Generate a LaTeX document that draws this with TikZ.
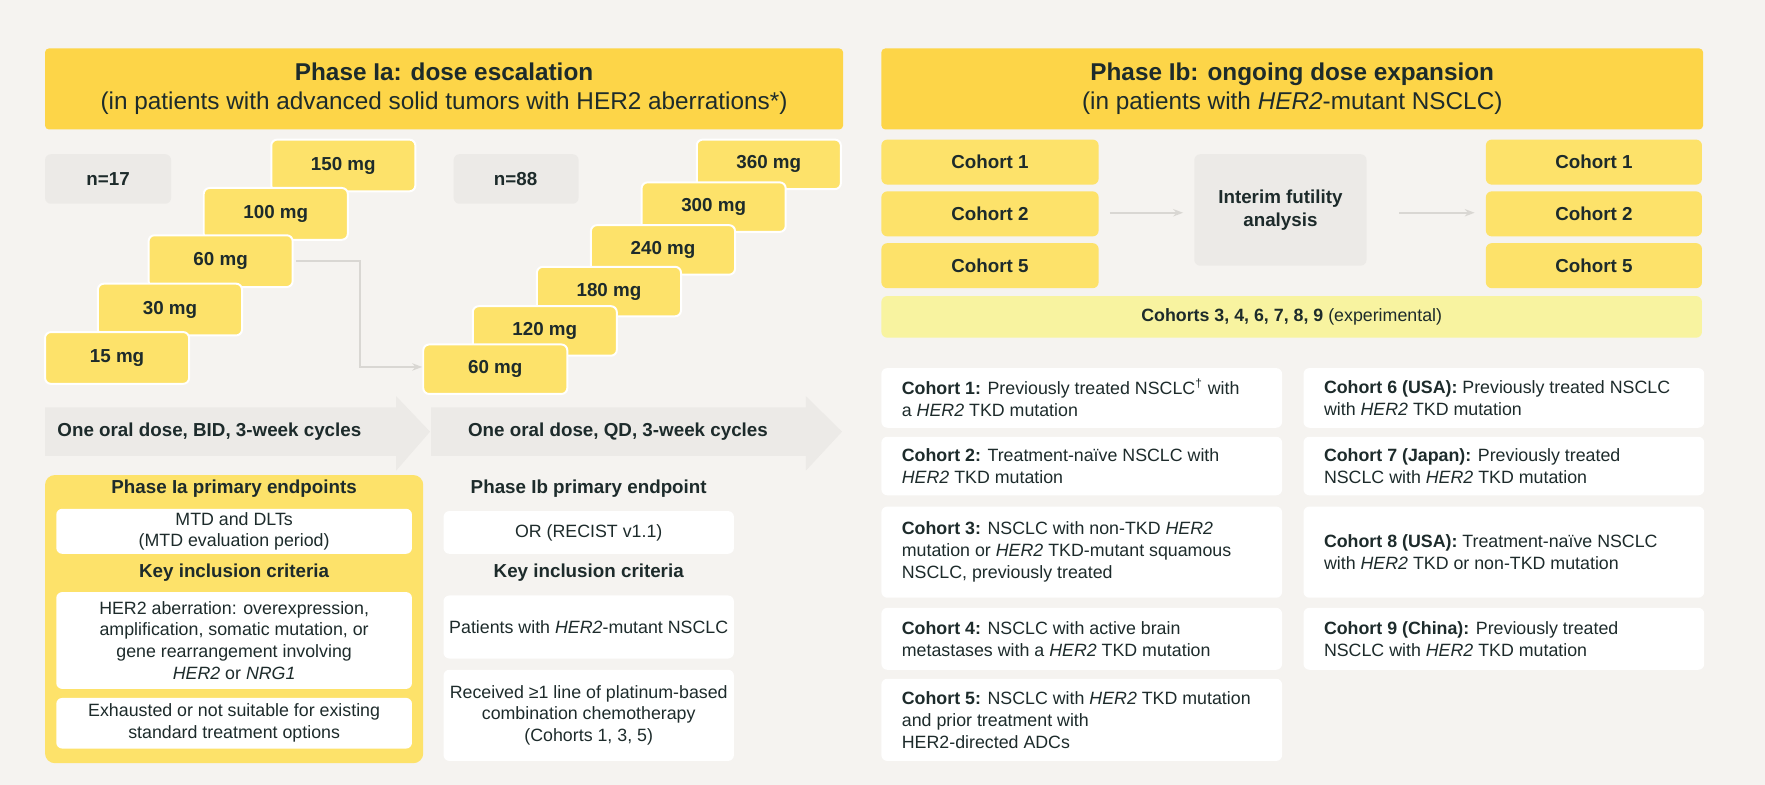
\documentclass[tikz,border=0pt]{standalone}
\usepackage{fontspec}
\setmainfont{Liberation Sans}
\usetikzlibrary{arrows.meta}
\definecolor{bg}{HTML}{F5F3F0}
\definecolor{hdr}{HTML}{FDD548}
\definecolor{dose}{HTML}{FDE26A}
\definecolor{gry}{HTML}{ECEAE7}
\definecolor{lyel}{HTML}{F8F3A0}
\definecolor{txt}{HTML}{1D2B2B}
\definecolor{ln}{HTML}{D9D7D3}
\begin{document}
\begin{tikzpicture}[x=0.02cm,y=-0.02cm,every node/.style={text=txt,font=\fontsize{9}{11}\selectfont},
 box/.style={rounded corners=3pt,inner sep=0pt},
 dosebox/.style={box,fill=dose,draw=white,line width=1pt},
 wbox/.style={box,fill=white},
 gbox/.style={box,fill=gry},
 lbl/.style={font=\fontsize{9.5}{11.5}\selectfont\bfseries,align=center},
 ctx/.style={font=\fontsize{9}{11.2}\selectfont,align=left,anchor=west},
 conn/.style={draw=ln,line width=1pt,-{Stealth[length=5pt]}}]
\fill[bg] (0,0) rectangle (1568,697);
\useasboundingbox (0,0) rectangle (1568,697);
% headers
\fill[hdr,rounded corners=2pt] (40,43) rectangle (749,115);
\node[lbl,font=\fontsize{12.3}{14.5}\selectfont] (h1) at (394.5,79) {\textbf{Phase Ia: dose escalation}\\\mdseries(in patients with advanced solid tumors with HER2 aberrations*)};
\fill[hdr,rounded corners=2pt] (783,43) rectangle (1513,115);
\node[lbl,font=\fontsize{12.3}{14.5}\selectfont] (h2) at (1148,79) {\textbf{Phase Ib: ongoing dose expansion}\\\mdseries(in patients with \textit{HER2}-mutant NSCLC)};
% n boxes
\fill[gry,rounded corners=3pt] (40,137) rectangle (152,181); \node[lbl] (n1) at (96,159) {n=17};
\fill[gry,rounded corners=3pt] (403,137) rectangle (514,181); \node[lbl] (n2) at (458,159) {n=88};
% left doses
\foreach \x/\y/\t/\nm in {241/124/150 mg/a150,181/167/100 mg/a100,132/209/60 mg/a60,87/252/30 mg/a30,40/295/15 mg/a15}{
 \draw[dosebox] (\x,\y) rectangle ++(128,46);
 \node[lbl] (\nm) at (\x+64,\y+23) {\t};}
% right doses
\foreach \x/\y/\t/\nm in {619/124/360 mg/b360,570/162/300 mg/b300,525/200/240 mg/b240,477/237/180 mg/b180,420/272/120 mg/b120,376/306/60 mg/b60}{
 \draw[dosebox] (\x,\y) rectangle ++(128,44);
 \node[lbl] (\nm) at (\x+64,\y+22) {\t};}
\coordinate (c60) at (263,232); \coordinate (t60) at (375,326);
\draw[conn] (c60) -- (320,232) -- (320,326) -- (t60);
% big arrows
\fill[gry] (40,362) -- (352,362) -- (352,352) -- (382,383.5) -- (352,418) -- (352,405) -- (40,405) -- cycle;
\node[lbl] (ar1) at (186,383.5) {One oral dose, BID, 3-week cycles};
\fill[gry] (383,362) -- (716,362) -- (716,352) -- (748,383.5) -- (716,418) -- (716,405) -- (383,405) -- cycle;
\node[lbl] (ar2) at (549,383.5) {One oral dose, QD, 3-week cycles};
% left panel
\fill[dose,rounded corners=5pt] (40,422) rectangle (376,678);
\node[lbl] (p1) at (208,434) {Phase Ia primary endpoints};
\fill[white,rounded corners=3pt] (50,452) rectangle (366,492);
\node[align=center] (p1b) at (208,472) {MTD and DLTs\\(MTD evaluation period)};
\node[lbl] (k1) at (208,509) {Key inclusion criteria};
\fill[white,rounded corners=3pt] (50,526) rectangle (366,612);
\node[align=center] (k1a) at (208,569) {HER2 aberration: overexpression,\\amplification, somatic mutation, or\\gene rearrangement involving\\\textit{HER2} or \textit{NRG1}};
\fill[white,rounded corners=3pt] (50,620) rectangle (366,665);
\node[align=center] (k1b) at (208,642.5) {Exhausted or not suitable for existing\\standard treatment options};
% middle
\node[lbl] (p2) at (523,434) {Phase Ib primary endpoint};
\fill[white,rounded corners=3pt] (394,454) rectangle (652,492);
\node (p2b) at (523,473) {OR (RECIST v1.1)};
\node[lbl] (k2) at (523,509) {Key inclusion criteria};
\fill[white,rounded corners=3pt] (394,529) rectangle (652,585);
\node (k2a) at (523,557) {Patients with \textit{HER2}-mutant NSCLC};
\fill[white,rounded corners=3pt] (394,595) rectangle (652,676);
\node[align=center] (k2b) at (523,635.5) {Received ≥1 line of platinum-based\\combination chemotherapy\\(Cohorts 1, 3, 5)};
% right top
\foreach \y/\t/\nm in {124/Cohort 1/l1,170/Cohort 2/l2,216/Cohort 5/l5}{
 \fill[dose,rounded corners=3pt] (783,\y) rectangle (976,\y+40);
 \node[lbl] (\nm) at (879.5,\y+20) {\t};
 \fill[dose,rounded corners=3pt] (1320,\y) rectangle (1512,\y+40);
 \node[lbl] (r\nm) at (1416,\y+20) {\t};}
\fill[gry,rounded corners=3pt] (1061,137) rectangle (1214,236);
\node[lbl] (ifa) at (1137.5,186.5) {Interim futility\\analysis};
\coordinate (a1s) at (986,189); \coordinate (a1e) at (1051,189);
\coordinate (a2s) at (1243,189); \coordinate (a2e) at (1310,189);
\draw[conn] (a1s) -- (a1e); \draw[conn] (a2s) -- (a2e);
\fill[lyel,rounded corners=3pt] (783,263) rectangle (1512,300);
\node (exp) at (1147.5,281.5) {\textbf{Cohorts 3, 4, 6, 7, 8, 9} (experimental)};
% cohort descriptions
\foreach \x/\ya/\yb/\t/\nm in {
783/327/380/{\textbf{Cohort 1:} Previously treated NSCLC\textsuperscript{\dag} with\\a \textit{HER2} TKD mutation}/d1,
783/388/440/{\textbf{Cohort 2:} Treatment-naïve NSCLC with\\\textit{HER2} TKD mutation}/d2,
783/450/531/{\textbf{Cohort 3:} NSCLC with non-TKD \textit{HER2}\\mutation or \textit{HER2} TKD-mutant squamous\\NSCLC, previously treated}/d3,
783/540/595/{\textbf{Cohort 4:} NSCLC with active brain\\metastases with a \textit{HER2} TKD mutation}/d4,
783/603/676/{\textbf{Cohort 5:} NSCLC with \textit{HER2} TKD mutation\\and prior treatment with\\HER2-directed ADCs}/d5,
1158/327/380/{\textbf{Cohort 6 (USA):} Previously treated NSCLC\\with \textit{HER2} TKD mutation}/d6,
1158/388/440/{\textbf{Cohort 7 (Japan):} Previously treated\\NSCLC with \textit{HER2} TKD mutation}/d7,
1158/450/531/{\textbf{Cohort 8 (USA):} Treatment-naïve NSCLC\\with \textit{HER2} TKD or non-TKD mutation}/d8,
1158/540/595/{\textbf{Cohort 9 (China):} Previously treated\\NSCLC with \textit{HER2} TKD mutation}/d9}{
 \fill[white,rounded corners=3pt] (\x,\ya) rectangle (\x+356,\yb);
 \node[ctx] (\nm) at (\x+12,{(\ya+\yb)/2}) {\t};}
\end{tikzpicture}
\end{document}
